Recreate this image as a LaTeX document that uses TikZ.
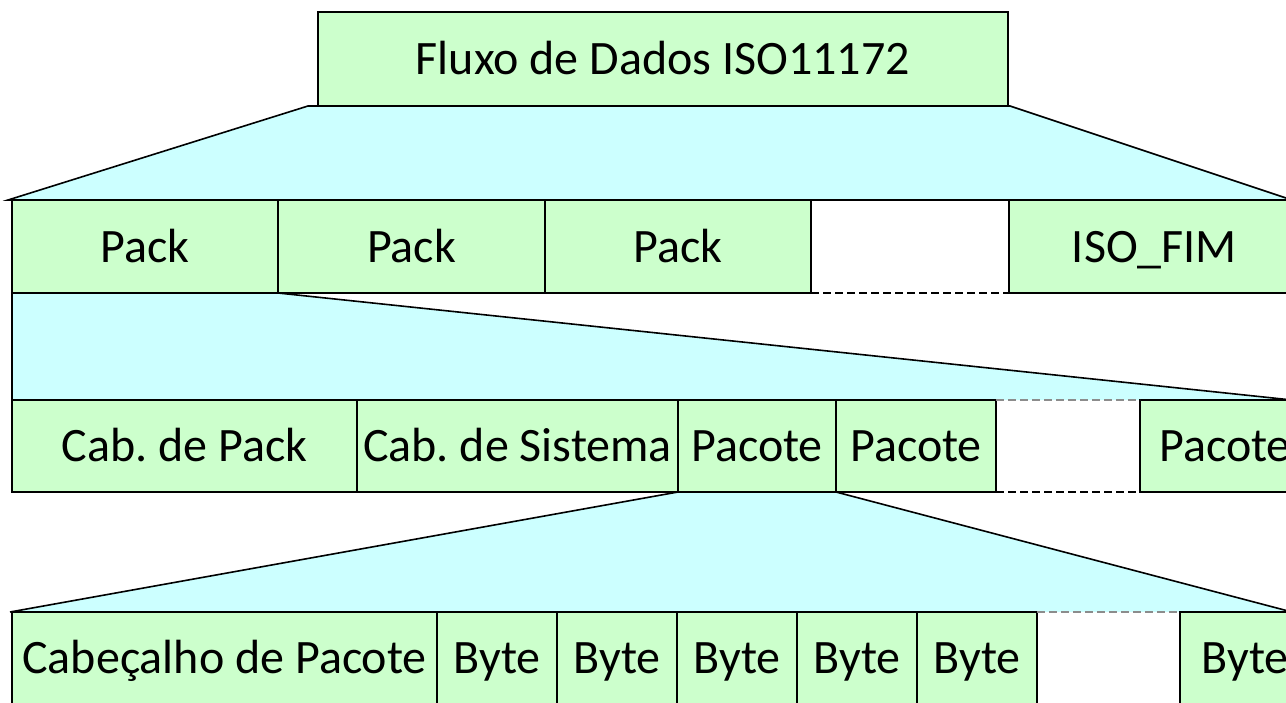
\documentclass[tikz,border=0pt]{standalone}
\usepackage{fontspec}
\setmainfont{Carlito}
\usetikzlibrary{backgrounds}
\definecolor{cellgreen}{HTML}{CCFFCC}
\definecolor{zoomcyan}{HTML}{CCFFFF}
\frenchspacing
\tikzset{
  cell/.style={draw=black, fill=cellgreen, line width=1.6pt, inner sep=0pt, outer sep=0pt,
    anchor=north west, text height=31pt, text depth=0pt,
    font=\fontsize{48}{58}\selectfont},
  gapcell/.style={inner sep=0pt, outer sep=0pt, anchor=north west},
  gapline/.style={line width=1.4pt, dash pattern=on 8pt off 4pt},
  gaplinelight/.style={line width=1.2pt, draw=black!45, dash pattern=on 8pt off 4pt},
  zoomfill/.style={fill=zoomcyan},
  zoomedge/.style={line width=1.6pt, draw=black, line join=miter},
}
\begin{document}
\begin{tikzpicture}[x=1pt,y=-1pt]
\useasboundingbox (0,0) rectangle (1286,702);

% top box
\node[cell, minimum width=690pt, minimum height=94pt] (top) at (318,12) {Fluxo de Dados ISO11172};

% row 1
\node[cell, minimum width=266pt, minimum height=93pt] (p1) at (12,200) {Pack};
\node[cell, minimum width=267pt, minimum height=93pt] (p2) at (278,200) {Pack};
\node[cell, minimum width=266pt, minimum height=93pt] (p3) at (545,200) {Pack};
\node[gapcell, minimum width=198pt, minimum height=93pt] (g1) at (811,200) {};
\node[cell, minimum width=291pt, minimum height=93pt] (fim) at (1009,200) {ISO\_FIM};

% row 2
\node[cell, minimum width=345pt, minimum height=92pt] (cp) at (12,400) {Cab. de Pack};
\node[cell, minimum width=321pt, minimum height=92pt] (cs) at (357,400) {Cab. de Sistema};
\node[cell, minimum width=158pt, minimum height=92pt] (pc1) at (678,400) {Pacote};
\node[cell, minimum width=160pt, minimum height=92pt] (pc2) at (836,400) {Pacote};
\node[gapcell, minimum width=144pt, minimum height=92pt] (g2) at (996,400) {};
\node[cell, minimum width=170pt, minimum height=92pt] (pcn) at (1140,400) {Pacote};

% row 3
\node[cell, minimum width=425pt, minimum height=92pt] (ch) at (12,612) {Cabeçalho de Pacote};
\node[cell, minimum width=120pt, minimum height=92pt] (b1) at (437,612) {Byte};
\node[cell, minimum width=120pt, minimum height=92pt] (b2) at (557,612) {Byte};
\node[cell, minimum width=120pt, minimum height=92pt] (b3) at (677,612) {Byte};
\node[cell, minimum width=120pt, minimum height=92pt] (b4) at (797,612) {Byte};
\node[cell, minimum width=120pt, minimum height=92pt] (b5) at (917,612) {Byte};
\node[gapcell, minimum width=143pt, minimum height=92pt] (g3) at (1037,612) {};
\node[cell, minimum width=130pt, minimum height=92pt] (bn) at (1180,612) {Byte};

% gap dashed edges
\draw[gapline] (g1.south west) -- (g1.south east);
\draw[gaplinelight] (g2.north west) -- (g2.north east);
\draw[gapline] (g2.south west) -- (g2.south east);
\draw[gaplinelight] (g3.north west) -- (g3.north east);

% expansion regions
\coordinate (t1l) at (308,106);
\coordinate (t1r) at (1010,106);
\coordinate (b1r) at (1292,200);
\coordinate (b1l) at (8,200);
\coordinate (b2r) at (1292,400);
\coordinate (b3r) at (1292,612);
\coordinate (b3l) at (10,612);

\begin{pgfonlayer}{background}
  \path[zoomfill, zoomedge, draw] (t1l) -- (t1r) -- (b1r) -- (b1l) -- cycle;
  \path[zoomfill] (p1.south west) -- (p1.south east) -- (b2r) -- (cp.north west) -- cycle;
  \draw[zoomedge] (cp.north west) -- (p1.south west);
  \draw[zoomedge] (p1.south east) -- (b2r);
  \path[zoomfill] (pc1.south west) -- (pc1.south east) -- (b3r) -- (b3l) -- cycle;
  \draw[zoomedge] (pc1.south west) -- (b3l);
  \draw[zoomedge] (pc1.south east) -- (b3r);
\end{pgfonlayer}
\end{tikzpicture}
\end{document}
